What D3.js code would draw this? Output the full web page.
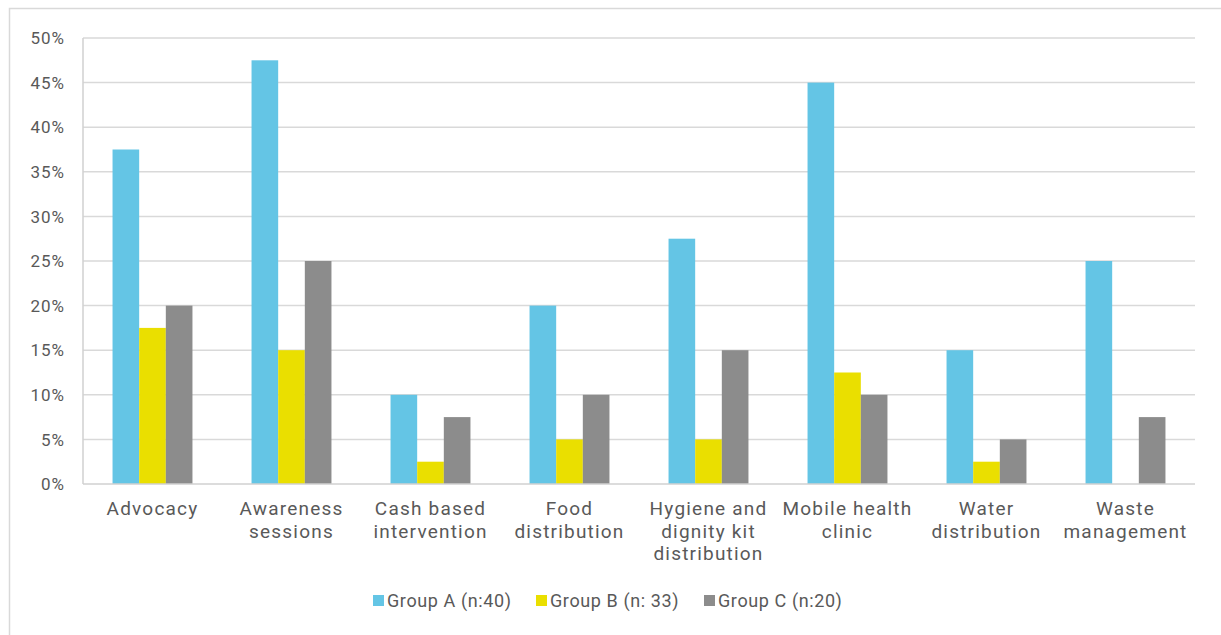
<!DOCTYPE html>
<html>
<head>
<meta charset="utf-8">
<script src="https://cdn.jsdelivr.net/npm/d3@7"></script>
<style>
  body { margin: 0; background: #fff; }
  text { font-family: Roboto, sans-serif; fill: #595959; }
</style>
</head>
<body>
<div id="chart"></div>
<script>
var categories = [
    ["Advocacy"],
    ["Awareness", "sessions"],
    ["Cash based", "intervention"],
    ["Food", "distribution"],
    ["Hygiene and", "dignity kit", "distribution"],
    ["Mobile health", "clinic"],
    ["Water", "distribution"],
    ["Waste", "management"]
];
var seriesNames = ["Group A (n:40)", "Group B (n: 33)", "Group C (n:20)"];
var groupA = [37.5, 47.5, 10, 20, 27.5, 45, 15, 25];
var groupB = [17.5, 15, 2.5, 5, 5, 12.5, 2.5, 0];
var groupC = [20, 25, 7.5, 10, 15, 10, 5, 7.5];
var yTicks = [0, 5, 10, 15, 20, 25, 30, 35, 40, 45, 50];
var colors = ["#64c5e5", "#eadf00", "#8c8c8c"];

var width = 1221;
var height = 635;
var margin = { left: 83, right: 26, top: 38, bottom: 151 };

var svg = d3.select("#chart")
    .append("svg")
    .attr("width", width)
    .attr("height", height);

// outer chart frame (left and top edges only visible)
svg.append("rect")
    .attr("x", 9.5)
    .attr("y", 8.5)
    .attr("width", width)
    .attr("height", height)
    .style("fill", "none")
    .style("stroke", "#d9d9d9")
    .style("stroke-width", 1.5);

var x = d3.scaleBand()
    .domain(d3.range(categories.length))
    .range([margin.left, width - margin.right])
    .paddingInner(0.425)
    .paddingOuter(0.2125);

var x1 = d3.scaleBand()
    .domain(d3.range(seriesNames.length))
    .range([0, x.bandwidth()]);

var y = d3.scaleLinear()
    .domain([0, 50])
    .range([height - margin.bottom, margin.top]);

// gridlines
svg.append("g")
    .selectAll("line")
    .data(yTicks.slice(1))
    .enter()
    .append("line")
    .attr("x1", margin.left)
    .attr("x2", width - margin.right)
    .attr("y1", function (d) { return y(d); })
    .attr("y2", function (d) { return y(d); })
    .style("stroke", "#d9d9d9")
    .style("stroke-width", 1.5);

// y labels
svg.append("g")
    .selectAll("text")
    .data(yTicks)
    .enter()
    .append("text")
    .attr("x", 65)
    .attr("y", function (d) { return y(d); })
    .attr("dy", "0.36em")
    .attr("text-anchor", "end")
    .style("font-size", "17px")
    .style("letter-spacing", "1px")
    .text(function (d) { return d + "%"; });

// bars
var series = [groupA, groupB, groupC];
var groups = svg.append("g")
    .selectAll("g")
    .data(series)
    .enter()
    .append("g")
    .style("fill", function (d, i) { return colors[i]; });

groups.each(function (values, s) {
    d3.select(this).selectAll("rect")
        .data(values)
        .enter()
        .append("rect")
        .attr("x", function (d, i) { return x(i) + x1(s); })
        .attr("width", x1.bandwidth())
        .attr("y", function (d) { return y(d); })
        .attr("height", function (d) { return y(0) - y(d); });
});

// axis lines
svg.append("line")
    .attr("x1", margin.left).attr("x2", margin.left)
    .attr("y1", margin.top).attr("y2", y(0))
    .style("stroke", "#d0d0d0").style("stroke-width", 1.5);
svg.append("line")
    .attr("x1", margin.left).attr("x2", width - margin.right)
    .attr("y1", y(0)).attr("y2", y(0))
    .style("stroke", "#d0d0d0").style("stroke-width", 1.5);

// category labels, one text per line
var catGroups = svg.append("g")
    .selectAll("g")
    .data(categories)
    .enter()
    .append("g")
    .attr("transform", function (d, i) {
        return "translate(" + (x(i) + x.bandwidth() / 2) + ",515)";
    });

catGroups.selectAll("text")
    .data(function (d) { return d; })
    .enter()
    .append("text")
    .attr("text-anchor", "middle")
    .attr("y", function (d, i) { return i * 22.5; })
    .style("font-size", "19px")
    .style("letter-spacing", "1.2px")
    .text(function (d) { return d; });

// legend
var legendX = [373, 536, 704];
var legend = svg.append("g")
    .selectAll("g")
    .data(seriesNames)
    .enter()
    .append("g")
    .attr("transform", function (d, i) { return "translate(" + legendX[i] + ",595)"; });

legend.append("rect")
    .attr("width", 11)
    .attr("height", 11)
    .style("fill", function (d, i) { return colors[i]; });

legend.append("text")
    .attr("x", 14)
    .attr("y", 12)
    .style("font-size", "18px")
    .style("letter-spacing", "0.6px")
    .text(function (d) { return d; });
</script>
</body>
</html>
